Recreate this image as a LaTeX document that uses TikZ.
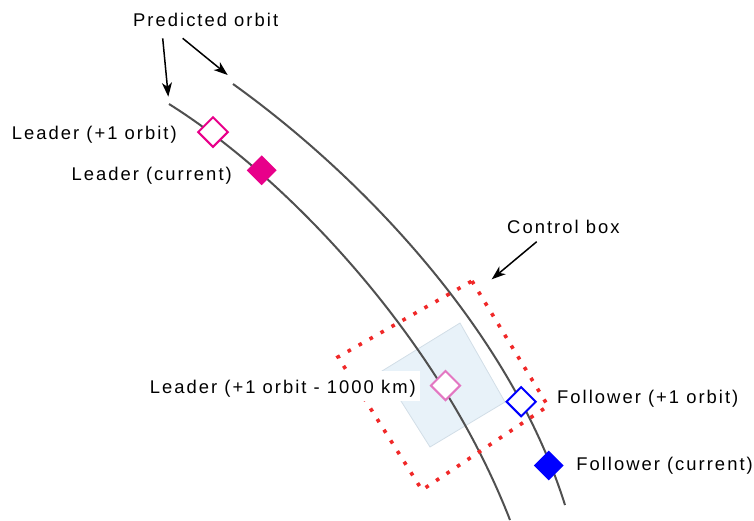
\documentclass[tikz,border=0pt]{standalone}
\usepackage{fontspec}
\setmainfont[LetterSpace=11]{Liberation Sans}
\usetikzlibrary{shapes.geometric,arrows.meta}
\definecolor{leadc}{HTML}{E8008A}
\definecolor{leadlc}{HTML}{E377C2}
\definecolor{follc}{HTML}{0000FF}
\definecolor{orbitc}{HTML}{505050}
\definecolor{boxred}{HTML}{F02828}
\definecolor{zonefill}{HTML}{E8F2F9}
\definecolor{zoneedge}{HTML}{D2DEE7}
\tikzset{
  orbit/.style={draw=orbitc,line width=2pt},
  dia/.style={diamond,aspect=1,inner sep=0pt,minimum size=30pt},
  opendia/.style={dia,fill=white,line width=2pt},
  lbl/.style={inner sep=0pt,font=\fontsize{18.4}{21}\selectfont},
  ptr/.style={draw=black,line width=1.5pt,-{Stealth[length=14pt,width=10pt,inset=4pt]}},
  ctrlbox/.style={draw=boxred,line width=3.6pt,dash pattern=on 3.6pt off 9pt},
}
\begin{document}
\begin{tikzpicture}[x=1pt,y=-1pt]
\useasboundingbox (0,0) rectangle (754,520);
% control zone
\coordinate (zt) at (460,323);
\coordinate (zr) at (505,402);
\coordinate (zb) at (430,447);
\coordinate (zl) at (382,371);
\filldraw[fill=zonefill,draw=zoneedge,line width=0.8pt] (zt) -- (zr) -- (zb) -- (zl) -- cycle;
% orbits
\coordinate (l0) at (169,104);
\coordinate (l1) at (510,520);
\coordinate (r0) at (233,84);
\coordinate (r1) at (565,505);
\draw[orbit] (l0) .. controls (290,180) and (440,340) .. (l1);
\draw[orbit] (r0) .. controls (360,175) and (510,330) .. (r1);
% control box (dotted)
\coordinate (bt) at (472,281);
\coordinate (br) at (548,406);
\coordinate (bb) at (422,490);
\coordinate (bl) at (338,357);
\draw[ctrlbox] (bt) -- (br) -- (bb) -- (bl) -- cycle;
% label with white background
\node[lbl,fill=white,inner xsep=4pt,inner ysep=6pt,text height=16pt,text depth=2pt,anchor=base east] (lk) at (420,393.3) {Leader (+1 orbit - 1000 km)};
% diamonds
\node[opendia,draw=leadc,minimum size=30.5pt] (dL1) at (213,132) {};
\node[dia,fill=leadc] (dL0) at (261.7,170.3) {};
\node[opendia,draw=leadlc] (dLk) at (445.5,385.5) {};
\node[opendia,draw=follc] (dF1) at (521.2,401.7) {};
\node[dia,fill=follc] (dF0) at (548.8,465.5) {};
% labels
\node[lbl,anchor=base east] (tL1) at (177,139.5) {Leader (+1 orbit)};
\node[lbl,anchor=base east] (tL0) at (232,180) {Leader (current)};
\node[lbl,anchor=base west] (tF1) at (557,403.3) {Follower (+1 orbit)};
\node[lbl,anchor=base east] (tF0) at (753,470.7) {Follower (current)};
\node[lbl,anchor=base west] (tP) at (133,26) {Predicted orbit};
\node[lbl,anchor=base west] (tC) at (507,233.3) {Control box};
% pointers
\coordinate (pa) at (162.7,38.3);
\coordinate (pb) at (182.7,38.3);
\coordinate (ta) at (168.3,96.7);
\coordinate (tb) at (227.7,75);
\coordinate (pc) at (536.7,241.7);
\coordinate (tc) at (491.7,279.3);
\draw[ptr] (pa) -- (ta);
\draw[ptr] (pb) -- (tb);
\draw[ptr] (pc) -- (tc);
\end{tikzpicture}
\end{document}
